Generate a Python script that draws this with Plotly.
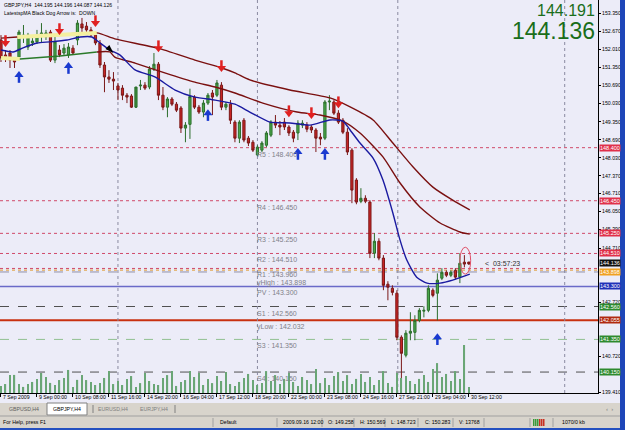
import plotly.graph_objects as go

# ---------------- data ----------------
bar_index = list(range(105))
opens = [152.36, 151.81, 151.88, 151.66, 151.73, 152.47, 152.10, 152.25, 152.29, 152.54,
         152.47, 152.65, 151.62, 151.99, 151.88, 151.81, 152.06, 152.36, 152.95, 152.87,
         152.73, 152.54, 152.25, 151.44, 151.00, 150.92, 150.67, 150.59, 150.33, 150.30,
         149.89, 150.67, 150.70, 150.63, 151.29, 151.47, 150.33, 149.89, 150.19, 150.00,
         149.86, 149.12, 149.258, 150.26, 149.89, 149.71, 150.04, 150.41, 150.33, 150.70,
         149.89, 150.00, 149.34, 148.75, 149.41, 148.75, 148.60, 148.13, 148.31, 148.49,
         148.86, 149.34, 149.23, 149.34, 149.16, 148.97, 148.94, 149.23, 149.23, 149.16,
         149.05, 148.79, 148.75, 150.08, 150.08, 149.67, 149.41, 148.97, 148.31, 147.21,
         146.43, 146.54, 146.40, 144.52, 144.96, 144.34, 143.38, 143.23, 143.05, 141.43,
         140.77, 141.58, 141.61, 142.05, 142.39, 142.42, 143.16, 143.05, 143.60, 143.82,
         143.71, 143.89, 143.64, 144.19, 144.195]
highs = [152.54, 151.99, 151.99, 151.73, 152.73, 152.91, 152.62, 152.54, 152.73, 152.98,
         152.73, 152.73, 152.54, 152.17, 152.21, 152.25, 152.17, 153.09, 153.17, 153.02,
         152.84, 152.65, 152.36, 151.55, 151.25, 151.18, 150.78, 150.70, 150.41, 150.37,
         149.86, 150.89, 150.81, 151.40, 151.88, 151.55, 150.63, 150.26, 150.26, 150.08,
         149.93, 149.34, 150.569, 150.33, 149.97, 150.15, 150.41, 150.52, 150.89, 150.81,
         150.08, 150.15, 149.41, 149.41, 149.49, 148.83, 148.68, 148.49, 148.64, 149.01,
         149.41, 149.60, 149.38, 149.49, 149.23, 149.05, 149.41, 149.41, 149.34, 149.23,
         149.12, 148.94, 150.15, 150.33, 150.15, 149.78, 149.49, 149.12, 148.38, 147.28,
         146.91, 146.65, 146.47, 145.26, 145.07, 144.45, 143.49, 143.34, 143.16, 141.50,
         141.69, 142.35, 142.24, 142.50, 142.57, 143.34, 143.23, 143.78, 143.97, 143.89,
         143.89, 143.97, 144.52, 144.45, 144.196]
lows = [151.55, 151.55, 151.33, 151.33, 151.62, 152.25, 151.99, 152.14, 152.21, 152.25,
        152.36, 151.55, 151.51, 151.73, 151.77, 151.70, 151.81, 152.17, 152.65, 152.62,
        152.47, 152.17, 151.33, 150.44, 150.78, 150.52, 150.15, 150.15, 150.04, 149.86,
        149.86, 150.52, 150.52, 150.55, 151.22, 150.15, 149.78, 149.52, 149.93, 149.71,
        148.94, 148.60, 148.723, 149.82, 149.64, 149.52, 149.97, 149.60, 150.26, 149.78,
        149.78, 149.27, 148.60, 148.57, 148.60, 148.46, 148.24, 148.09, 148.24, 148.42,
        148.79, 149.12, 148.86, 149.05, 148.83, 148.60, 148.68, 149.12, 148.97, 148.94,
        148.24, 148.49, 148.68, 149.78, 149.60, 149.27, 148.90, 148.13, 146.36, 146.32,
        146.36, 146.36, 144.34, 144.34, 144.26, 143.16, 142.79, 142.97, 141.32, 139.59,
        140.69, 141.32, 141.32, 141.98, 142.16, 142.35, 142.90, 142.05, 143.53, 143.64,
        143.64, 143.56, 143.42, 144.00, 144.087]
closes = [151.70, 151.70, 151.62, 151.55, 152.65, 152.54, 152.54, 152.32, 152.54, 152.62,
          152.62, 151.62, 152.29, 151.81, 152.06, 152.10, 151.88, 152.98, 152.80, 152.73,
          152.54, 152.25, 151.44, 151.00, 150.92, 150.85, 150.52, 150.33, 150.26, 149.89,
          150.63, 150.70, 150.59, 151.29, 151.47, 150.33, 149.89, 150.19, 150.00, 149.78,
          149.12, 149.23, 150.283, 149.89, 149.71, 150.04, 150.33, 150.26, 150.78, 149.89,
          150.00, 149.41, 148.75, 149.34, 148.68, 148.57, 148.31, 148.42, 148.57, 148.94,
          149.34, 149.23, 149.16, 149.16, 148.94, 148.75, 149.30, 149.30, 149.08, 149.05,
          148.75, 148.72, 150.08, 150.11, 149.67, 149.34, 148.97, 148.24, 146.84, 146.40,
          146.54, 146.43, 144.52, 144.96, 144.34, 143.34, 143.27, 143.08, 141.43, 140.84,
          141.58, 141.65, 142.05, 142.42, 142.42, 143.23, 142.97, 143.53, 143.82, 143.71,
          143.82, 143.64, 144.15, 144.12, 144.126]
volumes = [4400, 5600, 11200, 11300, 5700, 3800, 5600, 6900, 8800, 12500,
           10000, 6300, 5000, 8100, 9400, 14400, 3700, 8200, 11300, 8100,
           6900, 5000, 6200, 9400, 13700, 5600, 7500, 5000, 8800, 10600,
           3800, 6200, 12500, 7500, 5600, 5000, 9400, 11200, 13800, 4400,
           6900, 8100, 13768, 10000, 12500, 5000, 8800, 6200, 10600, 7500,
           13100, 5600, 4400, 6900, 9400, 11900, 8100, 5000, 6200, 13700,
           7500, 11200, 5600, 8800, 12500, 6900, 4400, 10000, 8100, 5600,
           15000, 6200, 9400, 5000, 10600, 13100, 7500, 11200, 5600, 8800,
           11900, 6900, 10000, 5000, 8100, 13700, 6200, 3800, 12500, 9400,
           10600, 7500, 5600, 8800, 11200, 6900, 15000, 18700, 10000, 11900,
           7500, 13700, 8800, 30000, 3700]

date_tick_index = [0, 8, 16, 24, 32, 40, 48, 56, 64, 72, 80, 88, 96, 104]
date_tick_text = ["7 Sep 2009", "9 Sep 00:00", "10 Sep 08:00", "11 Sep 16:00", "14 Sep 20:00",
                  "16 Sep 04:00", "17 Sep 12:00", "18 Sep 20:00", "22 Sep 00:00", "23 Sep 08:00",
                  "24 Sep 16:00", "27 Sep 21:00", "29 Sep 04:00", "30 Sep 12:00"]
price_ticks = [153.350, 152.670, 152.010, 151.350, 150.690, 150.030, 149.350, 148.690, 148.030,
               147.370, 146.710, 146.050, 145.390, 144.710, 142.720, 140.720, 139.410]

# moving averages (bar index, price)
fast_ma_index = [0, 2.7, 4.9, 8, 10.9, 14.7, 17.6, 20.2, 22, 24.2, 26.4, 29.8, 34.2, 38.7, 43.1,
                 47.6, 52, 55.3, 59.8, 64.2, 68.7, 73.1, 76, 77.6, 79.8, 82.7, 84.9, 87.1, 88.7,
                 90.2, 92.4, 94.7, 97.6, 100.4, 104.2]
fast_ma_price = [151.99, 151.92, 152.07, 152.25, 152.29, 152.36, 152.47, 152.47, 152.25, 151.99,
                 151.81, 151.26, 151.00, 150.52, 150.26, 150.15, 150.00, 149.71, 149.34, 149.31,
                 149.23, 149.42, 149.38, 149.05, 148.57, 148.02, 147.21, 146.00, 145.00, 144.27,
                 143.64, 143.42, 143.42, 143.53, 143.75]
slow_ma_index = [0, 3.6, 10.9, 21.3, 25.3, 34.9, 43.1, 49.1, 52, 55.3, 64.2, 73.1, 77.6, 82.7,
                 87.1, 91.6, 96, 100.4, 104.2]
slow_ma_price = [152.43, 152.47, 152.54, 152.62, 152.40, 152.06, 151.62, 151.33, 151.15, 150.89,
                 150.52, 150.23, 149.90, 149.42, 148.57, 147.69, 146.95, 146.47, 146.11]
mid_ma_index = [0, 4.2, 13.1, 21.3, 24.2, 25.3, 29.8, 36.4, 43.1, 47.6, 52, 58.2, 65.8, 70.9,
                76, 79.8, 84.9, 88.7, 93.1, 97.6, 102, 104.2]
mid_ma_price = [151.70, 151.66, 151.77, 151.92, 151.92, 151.73, 151.51, 151.15, 150.81, 150.63,
                150.41, 150.04, 149.71, 149.60, 149.38, 148.94, 148.06, 147.10, 146.22, 145.63,
                145.30, 145.22]

sell_arrow_index = [1, 13, 21, 35, 49, 64, 69, 75]
sell_arrow_price = [152.25, 152.69, 152.98, 152.06, 151.33, 149.67, 149.60, 150.00]
buy_arrow_index = [4, 15, 46, 66, 72, 97]
buy_arrow_price = [151.07, 151.40, 149.67, 148.24, 148.24, 141.43]
trend_arrow_index = [25]
trend_arrow_price = [151.88]

# pivot levels: price, label, line colour, dash, width, right-axis box colour
pivot_price = [148.400, 146.450, 145.250, 144.510, 143.960, 143.898, 143.300, 142.560,
               142.055, 141.350, 140.150]
pivot_label = ["R5 : 148.400", "R4 : 146.450", "R3 : 145.250", "R2 : 144.510", "R1 : 143.960",
               "yHigh : 143.898", "PV : 143.300", "S1 : 142.560", "yLow : 142.032",
               "S3 : 141.350", "S4 : 140.150"]
pivot_color = ["#d04a6a", "#d04a6a", "#d04a6a", "#d04a6a", "#d04a6a", "#e09a30", "#6a6ac8",
               "#505050", "#c83010", "#90c090", "#505050"]
pivot_dash = ["dot", "dot", "dot", "dot", "dot", "dot", "solid", "dash", "solid", "dash", "dash"]
pivot_width = [1, 1, 1, 1, 1, 1, 1.5, 1, 2, 1, 1]
axis_box_color = ["#e0304a", "#e0304a", "#e0304a", "#e0304a", None, "#f0a020", "#2030b8",
                  "#2e8a2e", "#b02a10", "#2e8a2e", "#2e8a2e"]
bid_price = 144.136
ask_price = 144.191

BG = "#ececf8"
W, H = 598.0, 393.0


def px(x):
    return x / W


def py(y):
    return 1 - y / H


fig = go.Figure()

# volumes (secondary axis, at the bottom of the chart)
fig.add_trace(go.Bar(x=bar_index, y=volumes, yaxis="y2", width=0.3,
                     marker=dict(color="#6aa676", line=dict(width=0)), hoverinfo="skip"))

# pivot lines
shapes = []
for p, c, d, w in zip(pivot_price, pivot_color, pivot_dash, pivot_width):
    shapes.append(dict(type="line", xref="paper", yref="y", x0=0, x1=1, y0=p, y1=p,
                       line=dict(color=c, width=w, dash=d), layer="below"))
shapes.append(dict(type="line", xref="paper", yref="y", x0=0, x1=1, y0=143.83, y1=143.83,
                   line=dict(color="#9090a8", width=1, dash="dash"), layer="below"))
# separators (vertical dotted)
for vx in [26, 57, 88.2, 125.3]:
    shapes.append(dict(type="line", xref="x", yref="paper", x0=vx, x1=vx, y0=0, y1=1,
                       line=dict(color="#8a8aa0", width=1, dash="dot"), layer="below"))

# MA lines
fig.add_trace(go.Scatter(x=slow_ma_index, y=slow_ma_price, mode="lines",
                         line=dict(color="#7a1010", width=1.4, shape="spline", smoothing=0.6),
                         hoverinfo="skip"))
fig.add_trace(go.Scatter(x=mid_ma_index[3:], y=mid_ma_price[3:], mode="lines",
                         line=dict(color="#7a1010", width=1.4, shape="spline", smoothing=0.6),
                         hoverinfo="skip"))
fig.add_trace(go.Scatter(x=slow_ma_index[1:4], y=slow_ma_price[1:4], mode="lines",
                         line=dict(color="#f4f0a0", width=4), hoverinfo="skip"))
fig.add_trace(go.Scatter(x=mid_ma_index[:2], y=mid_ma_price[:2], mode="lines",
                         line=dict(color="#f4f0a0", width=4), hoverinfo="skip"))
fig.add_trace(go.Scatter(x=mid_ma_index[1:4], y=mid_ma_price[1:4], mode="lines",
                         line=dict(color="#2a7a2a", width=1.4), hoverinfo="skip"))
fig.add_trace(go.Scatter(x=fast_ma_index, y=fast_ma_price, mode="lines",
                         line=dict(color="#1a1aa0", width=1.4, shape="spline", smoothing=0.6),
                         hoverinfo="skip"))

# candles
fig.add_trace(go.Candlestick(x=bar_index, open=opens, high=highs, low=lows, close=closes,
                             whiskerwidth=0,
                             increasing=dict(fillcolor="#4aa84a", line=dict(color="#2c6e2c", width=1)),
                             decreasing=dict(fillcolor="#c82424", line=dict(color="#7a1818", width=1)),
                             hoverinfo="skip"))

# arrows
fig.add_trace(go.Scatter(x=sell_arrow_index, y=[p + 0.13 for p in sell_arrow_price], mode="markers",
                         marker=dict(symbol="line-ns-open", size=6, color="#e02020",
                                     line=dict(color="#e02020", width=2.5)),
                         hoverinfo="skip"))
fig.add_trace(go.Scatter(x=sell_arrow_index, y=sell_arrow_price, mode="markers",
                         marker=dict(symbol="triangle-down", size=8, color="#e02020", line=dict(width=0)),
                         hoverinfo="skip"))
fig.add_trace(go.Scatter(x=buy_arrow_index, y=[p - 0.13 for p in buy_arrow_price], mode="markers",
                         marker=dict(symbol="line-ns-open", size=6, color="#1a3ad0",
                                     line=dict(color="#1a3ad0", width=2.5)),
                         hoverinfo="skip"))
fig.add_trace(go.Scatter(x=buy_arrow_index, y=buy_arrow_price, mode="markers",
                         marker=dict(symbol="triangle-up", size=8, color="#1a3ad0", line=dict(width=0)),
                         hoverinfo="skip"))
fig.add_trace(go.Scatter(x=trend_arrow_index, y=trend_arrow_price, mode="markers",
                         marker=dict(symbol="arrow", angle=135, size=9, color="#000000", line=dict(width=0)),
                         hoverinfo="skip"))

# red ellipse around last bars
shapes.append(dict(type="circle", xref="x", yref="y", x0=102.0, x1=104.4, y0=143.75, y1=144.74,
                   line=dict(color="#e05068", width=1)))

annotations = []
# pivot labels in chart
for p, t in zip(pivot_price, pivot_label):
    shift = -1
    if t.startswith("yHigh"):
        shift = -7
    annotations.append(dict(x=56.5, y=p, xref="x", yref="y", text=t, showarrow=False,
                            xanchor="left", yanchor="top", yshift=shift,
                            font=dict(family="Liberation Sans", size=7, color="#808088")))
# right-axis colored boxes
for p, c in zip(pivot_price, axis_box_color):
    if c is None or abs(p - 143.898) < 1e-6:
        continue
    annotations.append(dict(x=1.0, y=p, xref="paper", yref="y", text="%.3f" % p, showarrow=False,
                            xanchor="left", yanchor="middle", xshift=1, bgcolor=c, borderpad=0,
                            font=dict(family="Liberation Sans", size=5.5, color="#ffffff")))
annotations.append(dict(x=1.0, y=bid_price, xref="paper", yref="y", text="%.3f" % bid_price,
                        showarrow=False, xanchor="left", yanchor="middle", xshift=1, yshift=1,
                        bgcolor="#101010", borderpad=0,
                        font=dict(family="Liberation Sans", size=5.5, color="#ffffff")))
annotations.append(dict(x=1.0, y=143.898, xref="paper", yref="y", text="143.898",
                        showarrow=False, xanchor="left", yanchor="middle", xshift=1, yshift=-2,
                        bgcolor="#f0a020", borderpad=0,
                        font=dict(family="Liberation Sans", size=5.5, color="#ffffff")))

# date labels
for i, t in zip(date_tick_index, date_tick_text):
    annotations.append(dict(x=i, y=py(397), xref="x", yref="paper", text=t, showarrow=False,
                            xanchor="left", yanchor="middle", xshift=0,
                            font=dict(family="Liberation Sans", size=5.2, color="#000000")))

# title lines
annotations.append(dict(x=px(2), y=py(5), xref="paper", yref="paper",
                        text="GBPJPY,H4  144.195 144.196 144.087 144.126", showarrow=False,
                        xanchor="left", yanchor="middle",
                        font=dict(family="Liberation Sans", size=5.1, color="#000000")))
annotations.append(dict(x=px(2), y=py(12.5), xref="paper", yref="paper",
                        text="LatestspMA Black Dog Arrow is:  DOWN", showarrow=False,
                        xanchor="left", yanchor="middle",
                        font=dict(family="Liberation Sans", size=5.1, color="#000000")))
# bid / ask
annotations.append(dict(x=px(597), y=py(11), xref="paper", yref="paper", text="%.3f" % ask_price,
                        showarrow=False, xanchor="right", yanchor="middle",
                        font=dict(family="Liberation Sans", size=16, color="#1a6e1a")))
annotations.append(dict(x=px(597), y=py(31), xref="paper", yref="paper", text="%.3f" % bid_price,
                        showarrow=False, xanchor="right", yanchor="middle",
                        font=dict(family="Liberation Sans", size=23, color="#1a6e1a")))
# countdown
annotations.append(dict(x=px(483), y=py(263), xref="paper", yref="paper", text="<  03:57:23",
                        showarrow=False, xanchor="left", yanchor="middle",
                        font=dict(family="Liberation Sans", size=7, color="#303030")))

# ---- window chrome: tab bar and status bar ----
R = 625 / W
shapes.append(dict(type="rect", xref="paper", yref="paper", x0=0, x1=R, y0=py(416), y1=py(403),
                   fillcolor="#d8d4cc", line=dict(width=0), layer="below"))
shapes.append(dict(type="rect", xref="paper", yref="paper", x0=px(47), x1=px(87), y0=py(415), y1=py(403),
                   fillcolor="#ffffff", line=dict(color="#808080", width=1), layer="below"))
shapes.append(dict(type="rect", xref="paper", yref="paper", x0=0, x1=R, y0=py(428), y1=py(416),
                   fillcolor="#d8d4cc", line=dict(width=0), layer="below"))
shapes.append(dict(type="line", xref="paper", yref="paper", x0=0, x1=R, y0=py(416), y1=py(416),
                   line=dict(color="#a0a0a0", width=1)))
shapes.append(dict(type="rect", xref="paper", yref="paper", x0=0, x1=R, y0=py(431), y1=py(428),
                   fillcolor="#2450c0", line=dict(width=0)))
shapes.append(dict(type="rect", xref="paper", yref="paper", x0=px(620), x1=R, y0=py(431), y1=py(-2),
                   fillcolor="#1e46b8", line=dict(width=0)))
for sx in [93, 175]:
    shapes.append(dict(type="line", xref="paper", yref="paper", x0=px(sx), x1=px(sx), y0=py(413), y1=py(405),
                       line=dict(color="#808080", width=1)))
for sx in [213, 277, 322, 354, 385, 418, 453, 484, 530, 553]:
    shapes.append(dict(type="line", xref="paper", yref="paper", x0=px(sx), x1=px(sx), y0=py(427), y1=py(418),
                       line=dict(color="#a0a0a0", width=1)))
# connection icon
for k, col in enumerate(["#3a9a3a", "#3a9a3a", "#3a9a3a", "#c83020", "#c83020", "#c83020"]):
    shapes.append(dict(type="rect", xref="paper", yref="paper", x0=px(533 + 2 * k), x1=px(534.5 + 2 * k),
                       y0=py(426), y1=py(419), fillcolor=col, line=dict(width=0)))

tabs = [(7, "GBPUSD,H4", "#606060"), (51, "GBPJPY,H4", "#000000"), (96, "EURUSD,H4", "#808080"),
        (138, "EURJPY,H4", "#808080")]
for tx, t, col in tabs:
    annotations.append(dict(x=px(tx), y=py(409.5), xref="paper", yref="paper", text=t, showarrow=False,
                            xanchor="left", yanchor="middle",
                            font=dict(family="Liberation Sans", size=5.2, color=col)))
annotations.append(dict(x=px(604), y=py(409.5), xref="paper", yref="paper", text="‹  ›", showarrow=False,
                        xanchor="left", yanchor="middle",
                        font=dict(family="Liberation Sans", size=6, color="#808080")))
status = [(1, "For Help, press F1"), (218, "Default"), (281, "2009.09.16 12:00"), (326, "O: 149.258"),
          (358, "H: 150.569"), (389, "L: 148.723"), (423, "C: 150.283"), (457, "V: 13768"),
          (560, "1070/0 kb")]
for sx, t in status:
    annotations.append(dict(x=px(sx), y=py(422.5), xref="paper", yref="paper", text=t, showarrow=False,
                            xanchor="left", yanchor="middle",
                            font=dict(family="Liberation Sans", size=5.2, color="#000000")))

fig.update_layout(
    width=625, height=430,
    margin=dict(l=0, r=27, t=0, b=37),
    paper_bgcolor=BG, plot_bgcolor=BG,
    showlegend=False,
    shapes=shapes, annotations=annotations,
    xaxis=dict(range=[-0.22, 132.7], showgrid=False, zeroline=False, rangeslider=dict(visible=False),
               tickmode="array", tickvals=date_tick_index, ticktext=[""] * len(date_tick_index),
               ticks="outside", ticklen=3, tickcolor="#000000", showline=True, linecolor="#000000",
               linewidth=1, mirror=False, fixedrange=True),
    yaxis=dict(range=[139.38, 153.83], side="right", showgrid=False, zeroline=False,
               tickmode="array", tickvals=price_ticks, ticktext=["%.3f" % v for v in price_ticks],
               ticks="outside", ticklen=2, tickcolor="#000000",
               tickfont=dict(family="Liberation Sans", size=5.2, color="#000000"),
               showline=True, linecolor="#000000", linewidth=1),
    yaxis2=dict(overlaying="y", range=[0, 245600], visible=False),
    hovermode=False,
)

fig.write_html("out.html")
